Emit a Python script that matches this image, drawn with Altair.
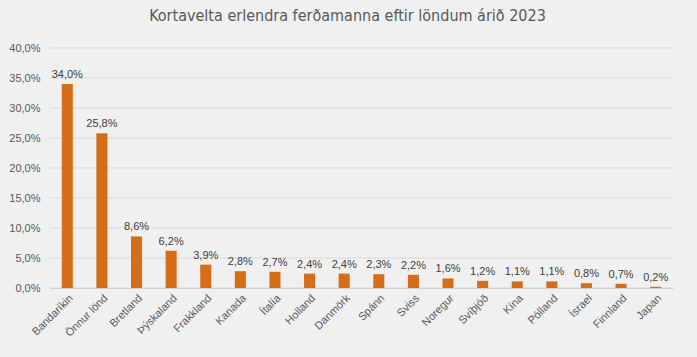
import altair as alt
import pandas as pd

countries = ["Bandaríkin", "Önnur lönd", "Bretland", "Þýskaland", "Frakkland", "Kanada",
             "Ítalía", "Holland", "Danmörk", "Spánn", "Sviss", "Noregur", "Svíþjóð",
             "Kína", "Pólland", "Ísrael", "Finnland", "Japan"]
shares = [34.0, 25.8, 8.6, 6.2, 3.9, 2.8, 2.7, 2.4, 2.4, 2.3, 2.2, 1.6, 1.2, 1.1, 1.1, 0.8, 0.7, 0.2]
y_ticks = [0.0, 5.0, 10.0, 15.0, 20.0, 25.0, 30.0, 35.0, 40.0]

df = pd.DataFrame({
    "land": countries,
    "hlutfall": shares,
    "merki": [f"{v:.1f}%".replace(".", ",") for v in shares],
})
ticks_df = pd.DataFrame({"gildi": y_ticks})

FONT = "Liberation Sans"
GREY = "#595959"

yscale = alt.Scale(domain=[0, 40], nice=False)
yaxis = alt.Axis(values=y_ticks, labelOverlap=False, tickCount=9,
                 labelExpr="replace(format(datum.value, '.1f'), '.', ',') + '%'",
                 labelFontSize=11, labelColor=GREY, labelFont=FONT,
                 ticks=False, domain=False, grid=False, labelPadding=10)

x = alt.X("land:N", sort=countries, title=None,
          scale=alt.Scale(paddingInner=0.68, paddingOuter=0.34),
          axis=alt.Axis(labelAngle=-45, labelFontSize=11, labelColor=GREY, labelFont=FONT,
                        ticks=False, domainColor="#c8c8c8", labelPadding=4))

grid = alt.Chart(ticks_df).mark_rule(color="#d9d9d9", strokeWidth=1).encode(
    y=alt.Y("gildi:Q", scale=yscale, axis=yaxis, title=None))
bars = alt.Chart(df).mark_bar(color="#D66E19").encode(
    x=x, y=alt.Y("hlutfall:Q", scale=yscale, axis=yaxis, title=None))
texts = alt.Chart(df).mark_text(dy=-9, fontSize=11, color="#404040", font=FONT).encode(
    x=x, y=alt.Y("hlutfall:Q", scale=yscale, axis=yaxis, title=None), text="merki:N")

chart = alt.layer(grid, bars, texts).properties(
    width=623, height=240,
    title=alt.TitleParams("Kortavelta erlendra ferðamanna eftir löndum árið 2023",
                          fontSize=16, font="'DejaVu Sans Condensed', 'Liberation Sans', sans-serif",
                          fontWeight="normal",
                          color=GREY, anchor="middle", dx=-14, offset=18),
    autosize=alt.AutoSizeParams(type="none"),
    padding={"left": 50, "top": 48, "right": 24, "bottom": 69},
    background="#f0f0f0",
).configure_view(stroke=None)

chart.save("out.html", embed_options={"renderer": "svg", "actions": False})
